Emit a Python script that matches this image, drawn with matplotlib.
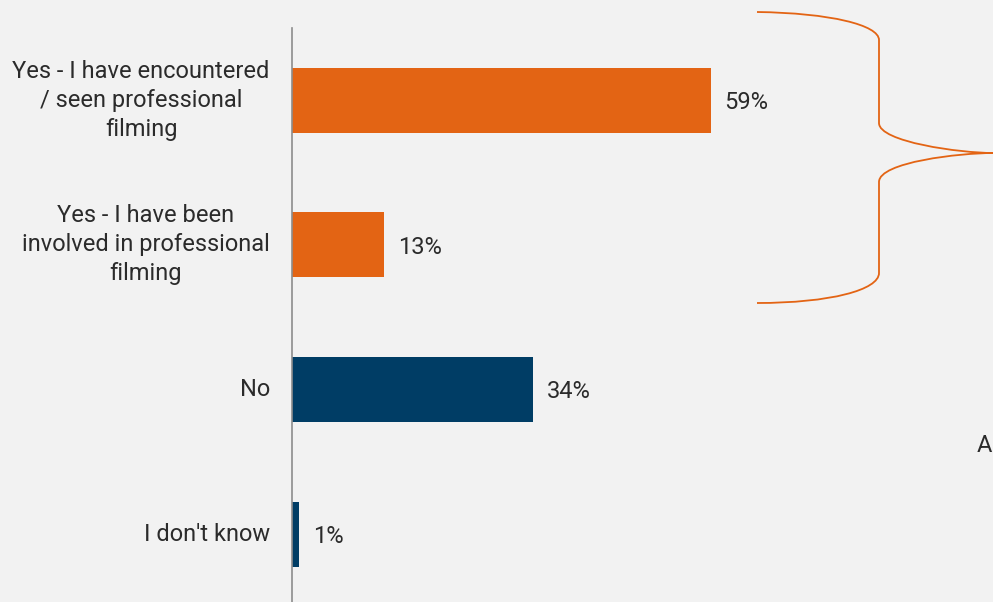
import matplotlib
matplotlib.use("Agg")
import matplotlib.pyplot as plt
from matplotlib.path import Path
from matplotlib.patches import PathPatch

categories = ["Yes - I have encountered\n/ seen professional\nfilming",
              "Yes - I have been\ninvolved in professional\nfilming",
              "No",
              "I don't know"]
values = [59, 13, 34, 1]
colors = ["#E36414", "#E36414", "#003D65", "#003D65"]
value_labels = ["59%", "13%", "34%", "1%"]

W, H = 993, 602
BG = "#F2F2F2"
TXT = "#2B2B2B"
FONT = "Roboto"

fig = plt.figure(figsize=(W / 100, H / 100), dpi=100, facecolor=BG)
ax = fig.add_axes([292 / W, 0, 1 - 292 / W, (H - 28) / H])
ax.set_facecolor(BG)

ypos = list(range(len(values)))
ax.barh(ypos, values, height=0.45, color=colors)
ax.set_xlim(0, 701 / 7.1)
ax.set_ylim(3.47, -0.5)

for y, v, lab in zip(ypos, values, value_labels):
    ax.text(v + 1.9, y + 0.015, lab, va="center", ha="left", fontsize=17,
            color=TXT, family=FONT)

ax.set_yticks(ypos)
ax.set_yticklabels(categories, fontsize=17, color=TXT, family=FONT,
                   linespacing=1.34, ha="right", va="center",
                   multialignment="center")
ax.tick_params(axis="y", length=0, pad=16)
ax.set_xticks([])
for s in ["top", "right", "bottom"]:
    ax.spines[s].set_visible(False)
ax.spines["left"].set_color("#8C8C8C")
ax.spines["left"].set_linewidth(1.2)

# curly brace (figure pixel coords, y from top)
def P(x, y):
    return (x / W, 1 - y / H)

verts = [P(757, 12),
         P(830, 13), P(879, 25), P(879, 40),
         P(879, 123),
         P(879, 142), P(960, 153), P(993, 153),
         P(960, 153), P(879, 162), P(879, 182),
         P(879, 273),
         P(879, 290), P(830, 303), P(757, 303)]
codes = [Path.MOVETO,
         Path.CURVE4, Path.CURVE4, Path.CURVE4,
         Path.LINETO,
         Path.CURVE4, Path.CURVE4, Path.CURVE4,
         Path.CURVE4, Path.CURVE4, Path.CURVE4,
         Path.LINETO,
         Path.CURVE4, Path.CURVE4, Path.CURVE4]
brace = PathPatch(Path(verts, codes), facecolor="none", edgecolor="#E36414",
                  linewidth=1.3, transform=fig.transFigure)
fig.patches.append(brace)

fig.text(977 / W, 1 - 446 / H, "A", fontsize=17, color=TXT, family=FONT,
         ha="left", va="center")

fig.savefig("out.png", dpi=100, facecolor=BG)
